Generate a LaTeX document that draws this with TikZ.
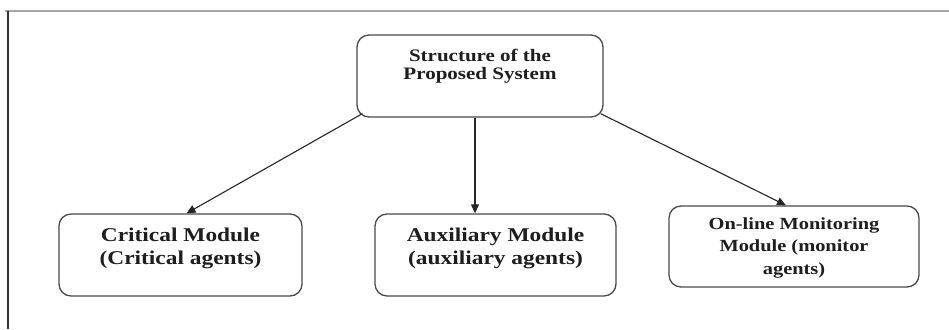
\documentclass[tikz,border=0pt]{standalone}
\usepackage{fontspec}
\setmainfont{Liberation Serif}
\newfontfamily\wideserif[FakeStretch=1.2]{Liberation Serif}
\usetikzlibrary{calc,arrows.meta}
\definecolor{boxline}{HTML}{4A4A4A}
\definecolor{txt}{HTML}{1E1E1E}
\tikzset{
  modbox/.style={draw=boxline, line width=1.3pt, rounded corners=12pt, inner sep=0pt, fill=white},
  toptext/.style={text=txt, align=center, font=\wideserif\bfseries\fontsize{17.5}{18}\selectfont},
  modtext/.style={text=txt, align=center, font=\wideserif\bfseries\fontsize{19.5}{23}\selectfont},
  montext/.style={text=txt, align=center, font=\wideserif\bfseries\fontsize{17}{22.5}\selectfont},
  conn/.style={draw=black!85, line width=1.1pt, -{Triangle[length=9pt,width=8pt]}}
}
\begin{document}
\begin{tikzpicture}[x=1pt,y=-1pt]
\useasboundingbox (0,0) rectangle (949,329);
\fill[white] (0,0) rectangle (949,329);
% frame
\draw[gray!70, line width=2.6pt] (5,11) -- (949,11);
\draw[black!80, line width=1.4pt] (8,11) -- (8,329);
% boxes
\node[modbox, minimum width=246pt, minimum height=82pt] (top) at (480,76) {};
\node[modbox, minimum width=243pt, minimum height=82pt] (crit) at (180.5,255) {};
\node[modbox, minimum width=241pt, minimum height=82pt] (aux) at (495.5,255) {};
\node[modbox, minimum width=250pt, minimum height=81pt] (mon) at (794,246.5) {};
% texts
\node[toptext] (toplbl) at ($(top.center)+(0,-10)$) {Structure of the\\Proposed System};
\node[modtext] (critlbl) at ($(crit.center)+(0,-6.5)$) {Critical Module\\(Critical agents)};
\node[modtext] (auxlbl) at ($(aux.center)+(0,-6.5)$) {Auxiliary Module\\(auxiliary agents)};
\node[montext] (monlbl) at ($(mon.center)+(0,1)$) {On-line Monitoring\\Module (monitor\\agents)};
% connectors
\draw[conn] ($(top.south west)+(6,-4)$) -- ($(crit.north)+(6,0)$);
\draw[conn] ($(top.south)+(-5,0)$) -- ($(aux.north)+(-20.5,0)$);
\draw[conn] ($(top.south east)+(-3,-4)$) -- ($(mon.north)+(-8,0)$);
\end{tikzpicture}
\end{document}
